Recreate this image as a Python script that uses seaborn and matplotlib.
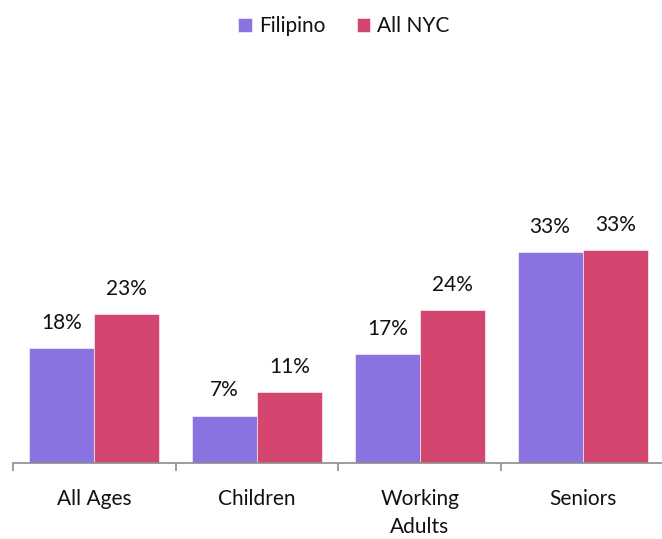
import numpy as np
import pandas as pd
import matplotlib
matplotlib.use("Agg")
import matplotlib.pyplot as plt
import seaborn as sns

groups = ["All Ages", "Children", "Working\nAdults", "Seniors"]
series = ["Filipino", "All NYC"]
filipino = [18.0, 7.4, 17.0, 33.0]
all_nyc = [23.3, 11.1, 23.9, 33.3]
colors = ["#8A72E0", "#D4466F"]

df = pd.DataFrame({
    "group": groups * 2,
    "series": [series[0]] * 4 + [series[1]] * 4,
    "value": filipino + all_nyc,
})

sns.set_theme(style="white")
plt.rcParams["font.family"] = ["Lato", "DejaVu Sans"]

fig = plt.figure(figsize=(6.62, 5.39), dpi=100)
ax = fig.add_axes([13 / 662, 76 / 539, 651 / 662, 383 / 539])

sns.barplot(data=df, x="group", y="value", hue="series", palette=colors,
            width=0.8, gap=0, ax=ax, saturation=1, edgecolor="#ffffff",
            linewidth=0.4, legend=True)

for cont in ax.containers:
    ax.bar_label(cont, labels=[f"{b.get_height():.0f}%" for b in cont],
                 padding=11, fontsize=15, color="#111111")

ax.set_xlim(-0.5, 3.5)
ax.set_ylim(0, 60)
ax.set_xlabel("")
ax.set_ylabel("")
ax.set_yticks([])
for s in ["top", "right", "left"]:
    ax.spines[s].set_visible(False)
ax.spines["bottom"].set_color("#8c8c8c")
ax.spines["bottom"].set_linewidth(1.2)

ax.set_xticks(np.arange(len(groups)))
ax.set_xticklabels(groups, fontsize=15, color="#111111", linespacing=1.5)
ax.set_xticks(np.arange(-0.5, len(groups) + 0.5, 1), minor=True)
ax.tick_params(axis="x", which="major", length=0, pad=19)
ax.tick_params(axis="x", which="minor", length=6, width=1.2, color="#8c8c8c",
               direction="out", bottom=True)

leg = ax.legend(loc="center", bbox_to_anchor=(344 / 662, 1 - 26 / 539),
                bbox_transform=fig.transFigure, ncol=2, frameon=False,
                fontsize=15, handlelength=0.65, handleheight=0.65,
                handletextpad=0.35, columnspacing=1.5)
for t in leg.get_texts():
    t.set_color("#111111")

fig.savefig("out.png", dpi=100)
